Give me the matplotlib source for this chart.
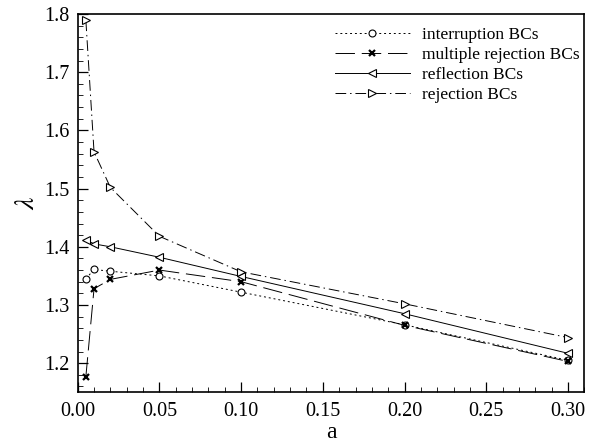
import matplotlib.pyplot as plt
from matplotlib.ticker import MultipleLocator

plt.rcParams['font.family'] = ['Liberation Serif', 'DejaVu Serif']
plt.rcParams['mathtext.fontset'] = 'stix'

# data
a = [0.005, 0.01, 0.02, 0.05, 0.1, 0.2, 0.3]
interruption = [1.345, 1.361, 1.358, 1.350, 1.322, 1.266, 1.205]
multiple_rejection = [1.177, 1.328, 1.344, 1.360, 1.340, 1.265, 1.203]
reflection = [1.412, 1.405, 1.400, 1.382, 1.349, 1.285, 1.217]
rejection = [1.789, 1.563, 1.502, 1.418, 1.357, 1.302, 1.244]

fig = plt.figure(figsize=(5.94, 4.47), dpi=100)
ax = fig.add_axes([0.1308, 0.1224, 0.8529, 0.8463])

lw = 0.7
ax.plot(a, interruption, color='black', lw=lw, ls=(0, (2, 3)), marker='o',
        ms=5, mfc='white', mec='black', mew=0.8, label='interruption BCs')
ax.plot(a, multiple_rejection, color='black', lw=lw, ls=(0, (20, 7)), marker='x',
        ms=4, mec='black', mew=1.6, label='multiple rejection BCs')
ax.plot(a, reflection, color='black', lw=lw, ls='-', marker='<',
        ms=5.5, mfc='white', mec='black', mew=0.8, label='reflection BCs')
ax.plot(a, rejection, color='black', lw=lw, ls=(0, (11, 4, 1.5, 4)), marker='>',
        ms=5.5, mfc='white', mec='black', mew=0.8, label='rejection BCs')

ax.set_xlim(0, 0.31)
ax.set_ylim(1.15, 1.8)
ax.xaxis.set_major_locator(MultipleLocator(0.05))
ax.xaxis.set_minor_locator(MultipleLocator(0.01))
ax.yaxis.set_major_locator(MultipleLocator(0.1))
ax.yaxis.set_minor_locator(MultipleLocator(0.02))
ax.xaxis.set_major_formatter(plt.FormatStrFormatter('%.2f'))
ax.yaxis.set_major_formatter(plt.FormatStrFormatter('%.1f'))
ax.tick_params(which='both', direction='in', labelsize=14.5)
ax.tick_params(which='major', length=7, width=0.9)
ax.tick_params(axis='x', which='major', pad=7)
ax.tick_params(axis='y', which='major', pad=6)
ax.tick_params(which='minor', length=3.5, width=0.6)
for s in ax.spines.values():
    s.set_linewidth(1.2)

ax.set_xlabel('a', fontsize=17, labelpad=0.5)
ax.set_ylabel(r'$\lambda$', fontsize=20, labelpad=3)

leg = ax.legend(loc='upper left', bbox_to_anchor=(335 / 594, 1 - 27 / 447),
                bbox_transform=fig.transFigure, fontsize=12.5, frameon=False,
                borderpad=0, borderaxespad=0, handlelength=4.3,
                handletextpad=0.7, labelspacing=0.22)

fig.savefig('out.png', dpi=100)
